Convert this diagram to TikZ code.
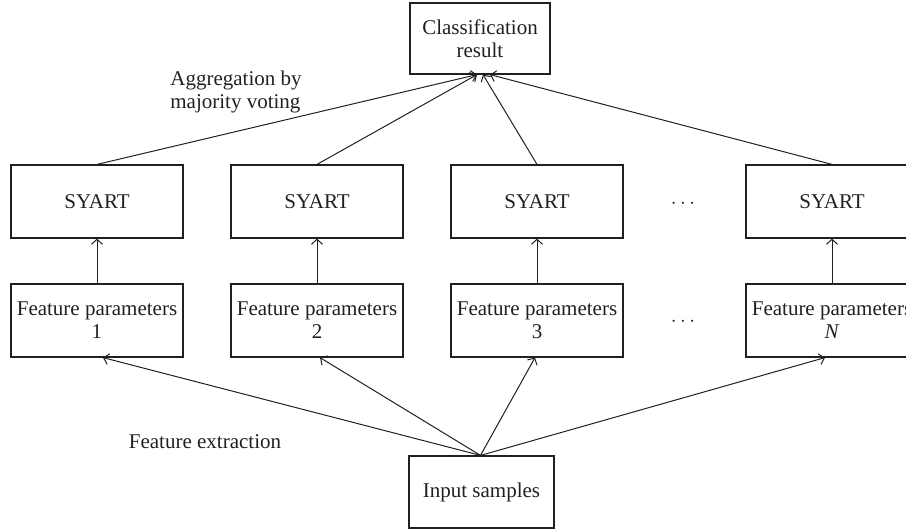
\documentclass[tikz,border=0pt]{standalone}
\usepackage{fontspec}
\setmainfont{Liberation Serif}
\usetikzlibrary{arrows.meta}
\definecolor{ink}{HTML}{231F20}
\begin{document}
\begin{tikzpicture}[x=1pt,y=-1pt,
  every node/.style={font=\fontsize{21}{23}\selectfont, text=ink},
  box/.style={draw=ink, line width=1.2pt, minimum width=172pt, minimum height=73pt, inner sep=0pt, align=center},
  topbox/.style={draw=ink, line width=1.2pt, minimum width=140pt, minimum height=71pt, inner sep=0pt, align=center},
  inbox/.style={draw=ink, line width=1.2pt, minimum width=145pt, minimum height=72pt, inner sep=0pt, align=center},
  conn/.style={draw=ink, line width=1pt, -{Straight Barb[length=5pt,width=11pt,line width=1pt]}},
  lbl/.style={align=left, inner sep=0pt}
]
\useasboundingbox (0,0) rectangle (906,531);
\clip (0,0) rectangle (906,531);

\node[topbox] (cls) at (480,38.5) {Classification\\result};

\node[box] (s1) at (97,201.5) {SYART};
\node[box] (s2) at (317,201.5) {SYART};
\node[box] (s3) at (537,201.5) {SYART};
\node[box] (sN) at (832,201.5) {SYART};
\node (d1) at (683,204) {$\cdots$};

\node[box] (f1) at (97,320.5) {Feature parameters\\1};
\node[box] (f2) at (317,320.5) {Feature parameters\\2};
\node[box] (f3) at (537,320.5) {Feature parameters\\3};
\node[box] (fN) at (832,320.5) {Feature parameters\\\textit{N}};
\node (d2) at (683,322) {$\cdots$};

\node[inbox] (in) at (481.5,492) {Input samples};

\node[lbl] (agg) at (236,92) {Aggregation by\\majority voting};
\node[lbl] (fe) at (205,442) {Feature extraction};

\foreach \i in {1,2,3,N}{
  \draw[conn] (f\i.north) -- (s\i.south);
}

\draw[conn] (s1.north) -- ([xshift=-3pt]cls.south);
\draw[conn] (s2.north) -- ([xshift=-3pt]cls.south);
\draw[conn] (s3.north) -- ([xshift=3pt]cls.south);
\draw[conn] (sN.north) -- ([xshift=10pt]cls.south);

\coordinate (src) at ([xshift=-1pt]in.north);
\draw[conn] (src) -- ([xshift=6pt]f1.south);
\draw[conn] (src) -- ([xshift=3pt]f2.south);
\draw[conn] (src) -- ([xshift=-2pt]f3.south);
\draw[conn] (src) -- ([xshift=-7pt]fN.south);
\end{tikzpicture}
\end{document}
